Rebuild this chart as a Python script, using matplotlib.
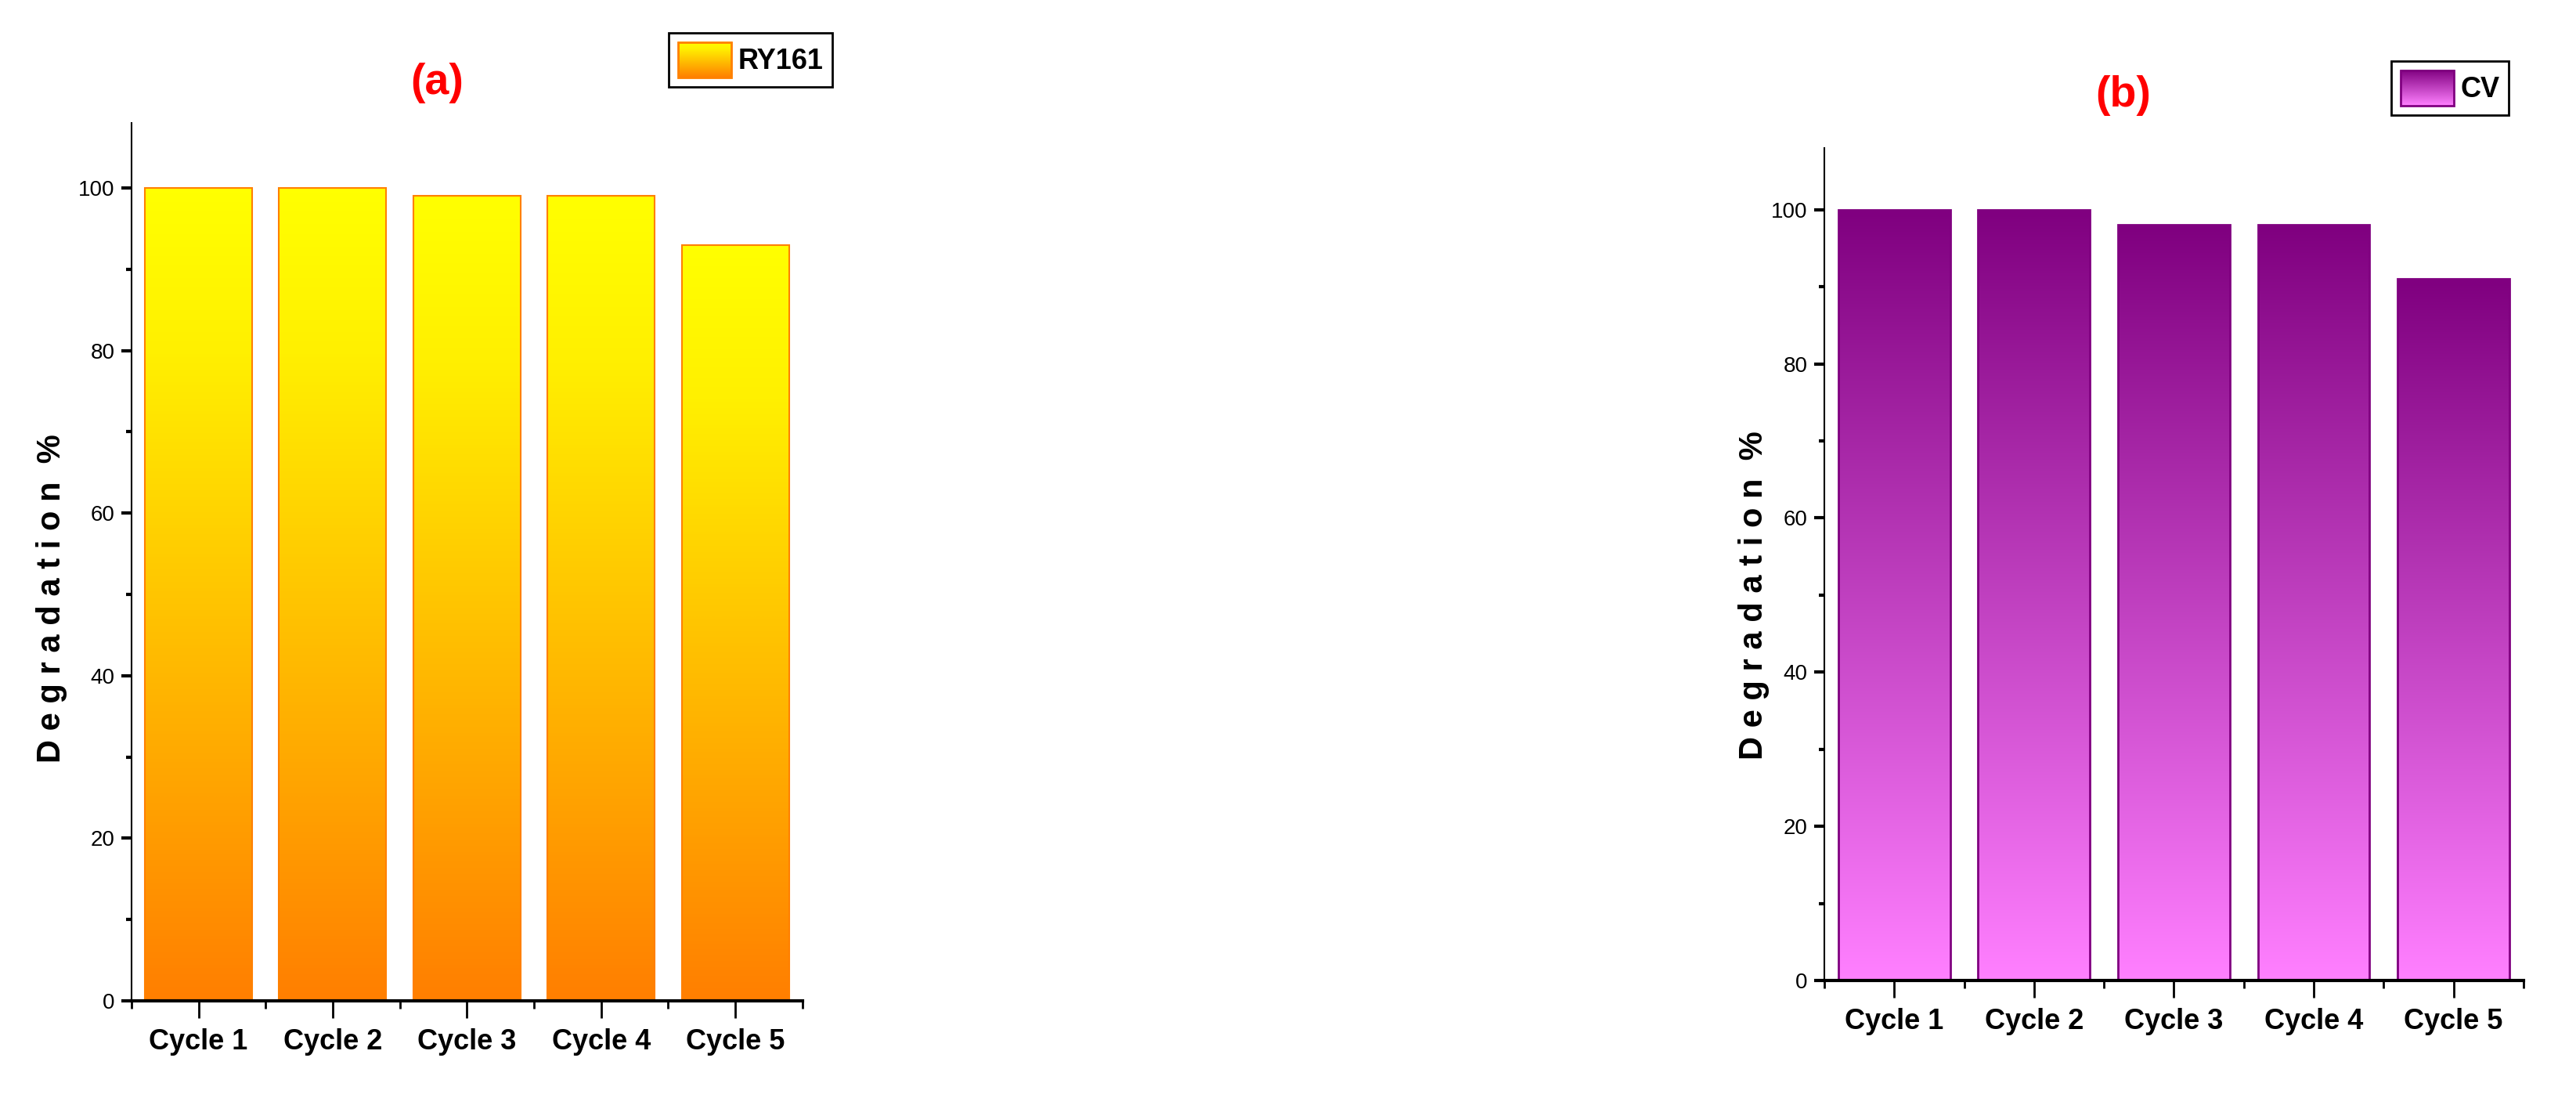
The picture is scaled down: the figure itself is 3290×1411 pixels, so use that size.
import numpy as np
import matplotlib
matplotlib.use('Agg')
import matplotlib.pyplot as plt
from matplotlib.colors import LinearSegmentedColormap, Normalize
from matplotlib.legend_handler import HandlerBase
from matplotlib.image import BboxImage
from matplotlib.transforms import Bbox, TransformedBbox
from matplotlib.patches import Rectangle
from matplotlib.ticker import MultipleLocator, FixedLocator

# data
cycles = ['Cycle 1', 'Cycle 2', 'Cycle 3', 'Cycle 4', 'Cycle 5']
ry161 = [100, 100, 99, 99, 93]
cv = [100, 100, 98, 98, 91]

plt.rcParams['font.family'] = ['Liberation Sans', 'DejaVu Sans']

yellow_cmap = LinearSegmentedColormap.from_list(
    'yo', [(0, '#FF7F00'), (0.8, '#FFF000'), (1, '#FFFF00')])
purple_cmap = LinearSegmentedColormap.from_list('pv', ['#FF80FF', '#800080'])


class GradHandler(HandlerBase):
    """legend box filled with the same gradient as the bars"""
    def __init__(self, cmap, edge, lw):
        super().__init__()
        self.cmap = cmap
        self.edge = edge
        self.lw = lw

    def create_artists(self, legend, orig_handle, xdescent, ydescent,
                       width, height, fontsize, trans):
        bb = TransformedBbox(Bbox.from_bounds(-xdescent, -ydescent, width, height), trans)
        img = BboxImage(bb, cmap=self.cmap, norm=Normalize(0, 1), interpolation='bicubic')
        img.set_data(np.linspace(1, 0, 256).reshape(-1, 1))
        rect = Rectangle((-xdescent, -ydescent), width, height, fill=False,
                         edgecolor=self.edge, linewidth=self.lw, transform=trans)
        return [img, rect]


def draw_panel(ax, values, cmap, edge, ew, label, tag, tag_xy, ylab_xy, leg_anchor):
    x = np.arange(1, len(values) + 1)
    bars = ax.bar(x, values, width=0.8, facecolor='none', edgecolor=edge,
                  linewidth=ew, zorder=3)
    grad = np.linspace(0, 1, 256).reshape(-1, 1)
    for b in bars:
        x0, w, h = b.get_x(), b.get_width(), b.get_height()
        im = ax.imshow(grad, cmap=cmap, origin='lower', extent=[x0, x0 + w, 0, h],
                       aspect='auto', zorder=2, interpolation='bicubic')
        im.set_clip_path(b)

    ax.set_xlim(0.5, len(values) + 0.5)
    ax.set_ylim(0, 108)
    ax.set_xticks(x, cycles, fontweight='bold', fontsize=26)
    ax.xaxis.set_minor_locator(FixedLocator(np.arange(0.5, len(values) + 1, 1)))
    ax.yaxis.set_major_locator(MultipleLocator(20))
    ax.yaxis.set_minor_locator(MultipleLocator(10))

    ax.tick_params(axis='y', which='major', direction='out', length=9.5, width=3,
                   labelsize=20, pad=6)
    ax.tick_params(axis='y', which='minor', direction='out', length=5, width=3)
    ax.tick_params(axis='x', which='major', direction='out', length=16, width=2, pad=9)
    ax.tick_params(axis='x', which='minor', direction='out', length=7.5, width=2)

    for s in ['top', 'right']:
        ax.spines[s].set_visible(False)
    ax.spines['left'].set_linewidth(1.5)
    ax.spines['bottom'].set_linewidth(3)
    for s in ax.spines.values():
        s.set_zorder(5)

    ax.set_ylabel('D e g r a d a t i o n  %', fontsize=30, fontweight='bold', va='center')
    ax.yaxis.set_label_coords(*ylab_xy)

    ax.text(tag_xy[0], tag_xy[1], tag, transform=ax.transAxes, ha='center', va='center',
            color='red', fontsize=40, fontweight='bold')

    handle = Rectangle((0, 0), 1, 1)
    leg = fig.legend([handle], [label], handler_map={handle: GradHandler(cmap, edge, 2)},
                     loc='upper right', bbox_to_anchor=leg_anchor,
                     bbox_transform=fig.transFigure, fancybox=False, framealpha=1,
                     edgecolor='black', prop={'weight': 'bold', 'size': 26},
                     handlelength=1.9, handleheight=1.55, borderpad=0.33,
                     handletextpad=0.22, borderaxespad=0)
    leg.get_frame().set_linewidth(2)


fig = plt.figure(figsize=(32.91, 14.11), dpi=100)
ax1 = fig.add_axes([0.0510, 0.0943, 0.2604, 0.7945])
ax2 = fig.add_axes([0.7080, 0.1127, 0.2713, 0.7534])

draw_panel(ax1, ry161, yellow_cmap, '#FF8000', 1.5, 'RY161', '(a)',
           (0.456, 1.045), (-0.119, 0.4585), (0.3230, 0.9702))
draw_panel(ax2, cv, purple_cmap, '#800080', 2, 'CV', '(b)',
           (0.427, 1.063), (-0.101, 0.463), (0.9736, 0.9447))

fig.savefig('out.png', dpi=100)
